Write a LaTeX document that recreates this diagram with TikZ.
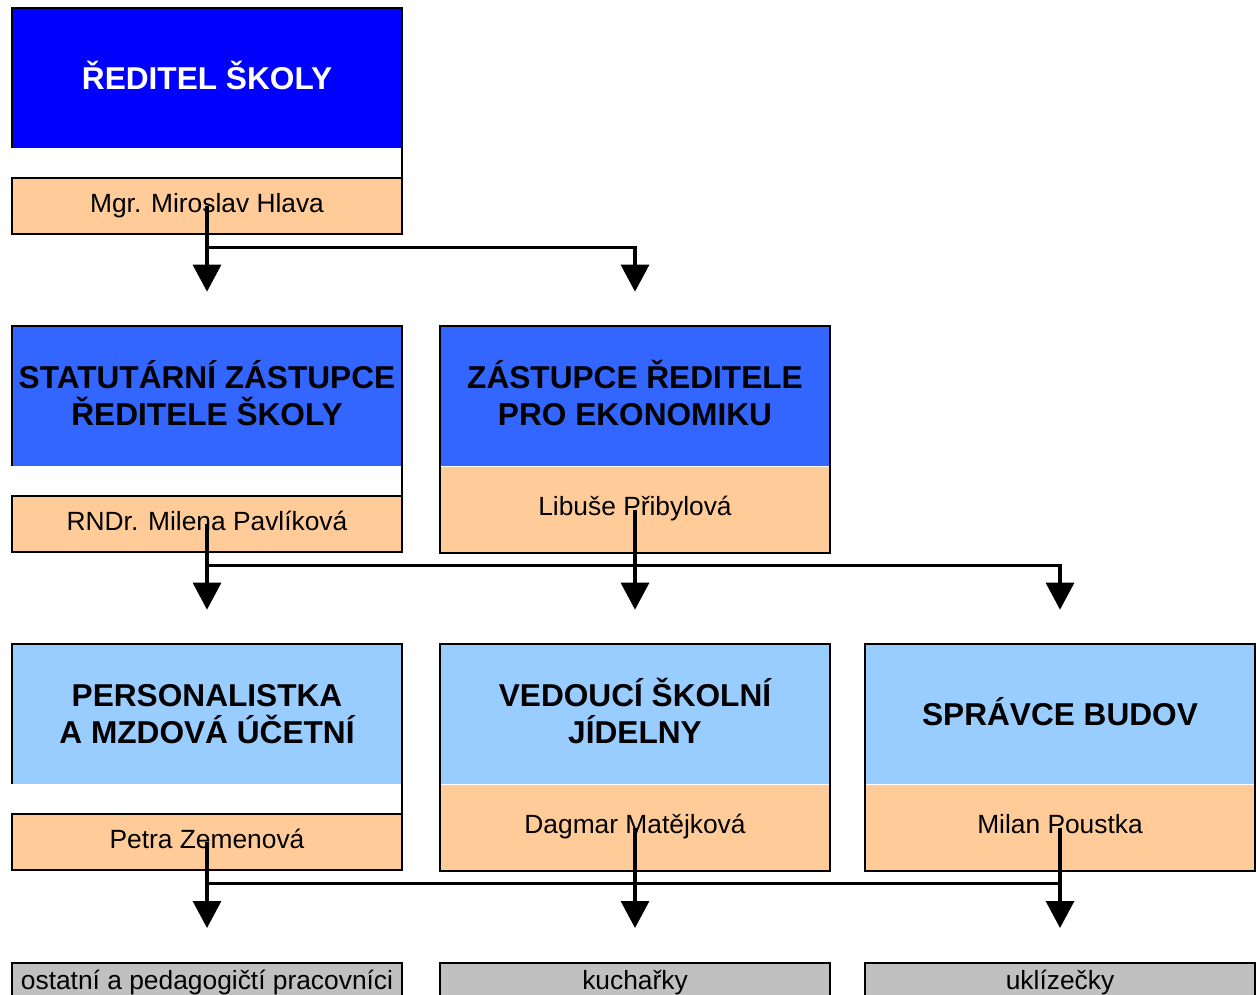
\documentclass[tikz,border=0pt]{standalone}
\usepackage{fontspec}
\setmainfont{Liberation Sans}
\usetikzlibrary{arrows.meta}

\definecolor{chiefblue}{RGB}{0, 0, 255}
\definecolor{deputyblue}{RGB}{51, 102, 255}
\definecolor{leadblue}{RGB}{153, 204, 255}
\definecolor{nameorange}{RGB}{255, 204, 153}
\definecolor{staffgrey}{RGB}{192, 192, 192}
\tikzset{head/.style={minimum width=7.8cm, minimum height=2.8cm, align=center, text depth=3.4pt, font=\bfseries\fontsize{18}{21}\selectfont}}
\tikzset{person/.style={fill=nameorange, minimum width=7.8cm, text height=0.716em, text depth=0pt, font=\fontsize{15}{18}\selectfont}}
\tikzset{staff/.style={draw, line width=1pt, fill=staffgrey, minimum width=7.8cm, minimum height=0.8cm, text height=0.716em, text depth=0pt, font=\fontsize{15}{18}\selectfont}}
\tikzset{frame/.style={line width=1pt}}
\tikzset{link/.style={line width=1.8pt}}
\tikzset{down/.style={link, -{Triangle[width=0.56cm, length=0.54cm]}}}

\begin{document}
\begin{tikzpicture}[x=0.02cm, y=-0.02cm]
    \useasboundingbox (0,0) rectangle (1256,994);

    \node[head, fill=chiefblue, text=white] (H1) at (207, 78) {ŘEDITEL ŠKOLY};
    \node[person, minimum height=1.1cm, anchor=north] (P1) at ([yshift=-0.6cm]H1.south) {Mgr. Miroslav Hlava};

    \node[head, fill=deputyblue] (H21) at (207, 396) {STATUTÁRNÍ ZÁSTUPCE\\ŘEDITELE ŠKOLY};
    \node[person, minimum height=1.1cm, anchor=north] (P21) at ([yshift=-0.6cm]H21.south) {RNDr. Milena Pavlíková};
    \node[head, fill=deputyblue] (H22) at (635, 396) {ZÁSTUPCE ŘEDITELE\\PRO EKONOMIKU};
    \node[person, minimum height=1.72cm, anchor=north] (P22) at (H22.south) {Libuše Přibylová};

    \node[head, fill=leadblue] (H31) at (207, 714) {PERSONALISTKA\vphantom{Ú}\\A MZDOVÁ ÚČETNÍ};
    \node[person, minimum height=1.1cm, anchor=north] (P31) at ([yshift=-0.6cm]H31.south) {Petra Zemenová};
    \node[head, fill=leadblue] (H32) at (635, 714) {VEDOUCÍ ŠKOLNÍ\\JÍDELNY};
    \node[person, minimum height=1.72cm, anchor=north] (P32) at (H32.south) {Dagmar Matějková};
    \node[head, fill=leadblue] (H33) at (1060, 714) {SPRÁVCE BUDOV};
    \node[person, minimum height=1.72cm, anchor=north] (P33) at (H33.south) {Milan Poustka};

    \node[staff, anchor=north] (S1) at (207, 962) {ostatní a pedagogičtí pracovníci};
    \node[staff, anchor=north] (S2) at (635, 962) {kuchařky};
    \node[staff, anchor=north] (S3) at (1060, 962) {uklízečky};

    % outlines
    \draw[frame] (H1.south west) |- (H1.north east) |- (P1.south west) |- (P1.north east);
    \draw[frame] (H21.south west) |- (H21.north east) |- (P21.south west) |- (P21.north east);
    \draw[frame] (H31.south west) |- (H31.north east) |- (P31.south west) |- (P31.north east);
    \draw[frame] (H22.north west) rectangle (P22.south east);
    \draw[frame] (H32.north west) rectangle (P32.south east);
    \draw[frame] (H33.north west) rectangle (P33.south east);

    \coordinate (A21) at ([yshift=0.68cm]H21.north);
    \coordinate (A22) at ([yshift=0.68cm]H22.north);
    \coordinate (A31) at ([yshift=0.68cm]H31.north);
    \coordinate (A32) at ([yshift=0.68cm]H32.north);
    \coordinate (A33) at ([yshift=0.68cm]H33.north);
    \coordinate (A41) at ([yshift=0.68cm]S1.north);
    \coordinate (A42) at ([yshift=0.68cm]S2.north);
    \coordinate (A43) at ([yshift=0.68cm]S3.north);
    \coordinate (B1) at ([yshift=-0.27cm]P1.south);
    \coordinate (B2) at ([yshift=-0.27cm]P21.south);
    \coordinate (B3) at ([yshift=-0.27cm]P31.south);

    \draw[down] (P1.center) -- (A21);
    \draw[down] (B1) -| (A22);

    \draw[down] (P21.center) -- (A31);
    \draw[down] (P22.center) -- (A32);
    \draw[down] (B2) -| (A33);

    \draw[down] (P31.center) -- (A41);
    \draw[down] (P32.center) -- (A42);
    \draw[down] (P33.center) -- (A43);
    \draw[link] (B3) -- (B3 -| P33.center);
\end{tikzpicture}
\end{document}
